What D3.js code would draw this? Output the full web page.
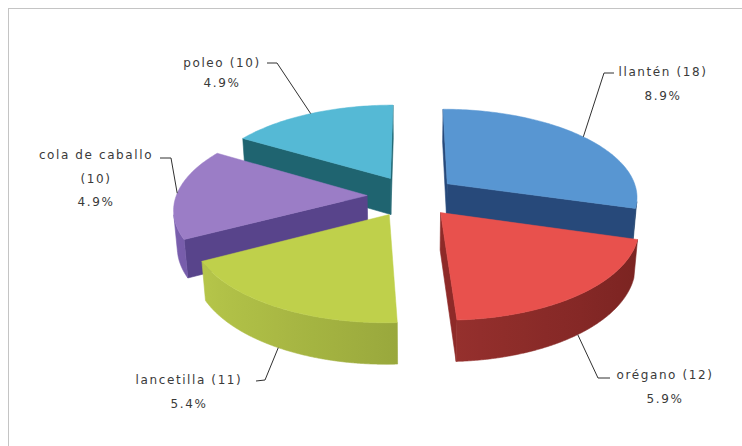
<!DOCTYPE html>
<html>
<head>
<meta charset="utf-8">
<script src="https://cdn.jsdelivr.net/npm/d3@7"></script>
<style>
  html, body { margin: 0; padding: 0; background: #ffffff; }
  svg { display: block; }
</style>
</head>
<body>
<svg id="chart" width="742" height="446"></svg>
<script>
// ---- data ----
const categories = ["llantén", "orégano", "lancetilla", "cola de caballo", "poleo"];
const counts = [18, 12, 11, 10, 10];
const percents = [8.9, 5.9, 5.4, 4.9, 4.9];

// ---- colours per slice (top face, radial cut faces, rim light/dark) ----
const topColors  = ["#5896d2", "#e8514d", "#bfd04b", "#9b7dc6", "#55b9d5"];
const cutColors  = ["#27497a", "#8e2a28", "#8c9a34", "#58448b", "#1f6470"];
const rimLight   = ["#3c6ea8", "#b23e3a", "#b9c94b", "#7a5fae", "#3d9ab2"];
const rimDark    = ["#244570", "#7a2321", "#7c8a2f", "#4d3b7c", "#1d5a66"];

// ---- 3D view of the pie ----
const view = {
  cx: 412, cy: 196,        // screen position of the pie centre
  scale: 191,              // pixels per radius at the centre's depth
  elev: 27.4 * Math.PI / 180,
  dist: 6.5,               // camera distance, in radii
  height: 0.22,            // disc thickness, in radii
  explode: 0.235           // slice offset, in radii
};

const svg = d3.select("#chart");
const defs = svg.append("defs");

// chart frame
svg.append("rect")
  .attr("x", 8.5).attr("y", 8.5)
  .attr("width", 760).attr("height", 460)
  .attr("fill", "#ffffff")
  .attr("stroke", "#c4c4c4")
  .attr("stroke-width", 1);

const cosE = Math.cos(view.elev), sinE = Math.sin(view.elev);
const focal = view.scale * view.dist;
const camera = [0, -view.dist * cosE, view.dist * sinE];

// u: right, v: away from viewer, w: up (top face at w = 0)
function project(u, v, w) {
  const yc = w * cosE + v * sinE;
  const zc = view.dist + v * cosE - w * sinE;
  return [view.cx + focal * u / zc, view.cy - focal * yc / zc];
}
function facesCamera(normal, point) {
  const d = [camera[0] - point[0], camera[1] - point[1], camera[2] - point[2]];
  return normal[0] * d[0] + normal[1] * d[1] + normal[2] * d[2] > 0;
}

const pie = d3.pie().sort(null).value(d => d);
const arcs = pie(counts).map((a, i) => {
  const mid = (a.startAngle + a.endAngle) / 2;
  return {
    i, a0: a.startAngle, a1: a.endAngle, mid,
    ou: view.explode * Math.sin(mid),
    ov: view.explode * Math.cos(mid)
  };
});

const line = d3.line();
const h = view.height;

function rimPoint(s, t, w) {
  return project(s.ou + Math.sin(t), s.ov + Math.cos(t), w);
}
function rimVisible(s, t) {
  const n = [Math.sin(t), Math.cos(t), 0];
  return facesCamera(n, [s.ou + n[0], s.ov + n[1], 0]);
}

// paint from the back of the pie to the front
const order = arcs.slice().sort((p, q) =>
  (q.ov + 0.5 * Math.cos(q.mid)) - (p.ov + 0.5 * Math.cos(p.mid)));

const gPie = svg.append("g");

order.forEach(s => {
  const g = gPie.append("g");
  const apexTop = project(s.ou, s.ov, 0);
  const apexBot = project(s.ou, s.ov, -h);

  // radial cut faces
  [[s.a0, [-Math.cos(s.a0), Math.sin(s.a0), 0]],
   [s.a1, [Math.cos(s.a1), -Math.sin(s.a1), 0]]].forEach(([t, n]) => {
    if (!facesCamera(n, [s.ou, s.ov, 0])) return;
    const pts = [apexTop, rimPoint(s, t, 0), rimPoint(s, t, -h), apexBot];
    g.append("path")
      .attr("d", line(pts) + "Z")
      .attr("fill", cutColors[s.i])
      .attr("stroke", cutColors[s.i])
      .attr("stroke-width", 0.6)
      .attr("stroke-linejoin", "round");
  });

  // outer rim: the visible stretch of the arc as one band, shaded across x
  const steps = 240;
  const vis = [];
  for (let k = 0; k <= steps; k++) {
    const t = s.a0 + (s.a1 - s.a0) * k / steps;
    if (rimVisible(s, t)) vis.push(t);
  }
  if (vis.length > 1) {
    const topArc = vis.map(t => rimPoint(s, t, 0));
    const botArc = vis.map(t => rimPoint(s, t, -h)).reverse();
    const shade = d3.interpolateRgb(rimDark[s.i], rimLight[s.i]);
    const xs = topArc.map(p => p[0]);
    const x0 = d3.min(xs), x1 = d3.max(xs);
    const grad = defs.append("linearGradient")
      .attr("id", "rim" + s.i)
      .attr("gradientUnits", "userSpaceOnUse")
      .attr("x1", x0).attr("y1", 0).attr("x2", x1).attr("y2", 0);
    const nStops = 12;
    const stopPts = d3.range(nStops + 1).map(k => vis[Math.round((vis.length - 1) * k / nStops)]);
    stopPts
      .map(t => ({ x: rimPoint(s, t, 0)[0], c: shade((1 - Math.sin(t)) / 2) }))
      .sort((p, q) => p.x - q.x)
      .forEach(st => {
        grad.append("stop")
          .attr("offset", x1 > x0 ? (st.x - x0) / (x1 - x0) : 0)
          .attr("stop-color", st.c);
      });
    g.append("path")
      .attr("d", line(topArc.concat(botArc)) + "Z")
      .attr("fill", "url(#rim" + s.i + ")")
      .attr("stroke", "url(#rim" + s.i + ")")
      .attr("stroke-width", 0.6)
      .attr("stroke-linejoin", "round");
  }

  // top face
  const topPts = [apexTop];
  const n = Math.ceil((s.a1 - s.a0) / 0.02);
  for (let k = 0; k <= n; k++) {
    topPts.push(rimPoint(s, s.a0 + (s.a1 - s.a0) * k / n, 0));
  }
  g.append("path")
    .attr("d", line(topPts) + "Z")
    .attr("fill", topColors[s.i])
    .attr("stroke", topColors[s.i])
    .attr("stroke-width", 0.5)
    .attr("stroke-linejoin", "round");
});

// ---- data labels with leader lines ----
const labelLayout = [
  { x: 663, y: 72,  lineGap: 24, wrap: false, knee: [[614, 73], [604, 73]] },
  { x: 665, y: 375, lineGap: 24, wrap: false, knee: [[610, 378], [598, 378]] },
  { x: 189, y: 380, lineGap: 24, wrap: false, knee: [[256, 381], [265, 380]] },
  { x: 96,  y: 155, lineGap: 23.5, wrap: true, knee: [[160, 158], [171, 158]] },
  { x: 222, y: 63,  lineGap: 20, wrap: false, knee: [[267, 63], [277, 63]] }
];

const gLabels = svg.append("g");
arcs.forEach(s => {
  const L = labelLayout[s.i];
  // leader line ends on the slice edge at its middle angle
  const back = Math.cos(s.mid) > 0;
  const anchor = rimPoint(s, s.mid, back ? 0 : -h);
  gLabels.append("path")
    .attr("d", line([L.knee[0], L.knee[1], anchor]))
    .attr("fill", "none")
    .attr("stroke", "#303030")
    .attr("stroke-width", 1);

  const lines = L.wrap
    ? [categories[s.i], "(" + counts[s.i] + ")", percents[s.i].toFixed(1) + "%"]
    : [categories[s.i] + " (" + counts[s.i] + ")", percents[s.i].toFixed(1) + "%"];
  lines.forEach((txt, j) => {
    gLabels.append("text")
      .attr("x", L.x)
      .attr("y", L.y + j * L.lineGap + 4)
      .attr("text-anchor", "middle")
      .attr("font-family", "DejaVu Sans, sans-serif")
      .attr("font-size", 12)
      .attr("letter-spacing", "1.6px")
      .attr("fill", "#3a3a3a")
      .text(txt);
  });
});
</script>
</body>
</html>
